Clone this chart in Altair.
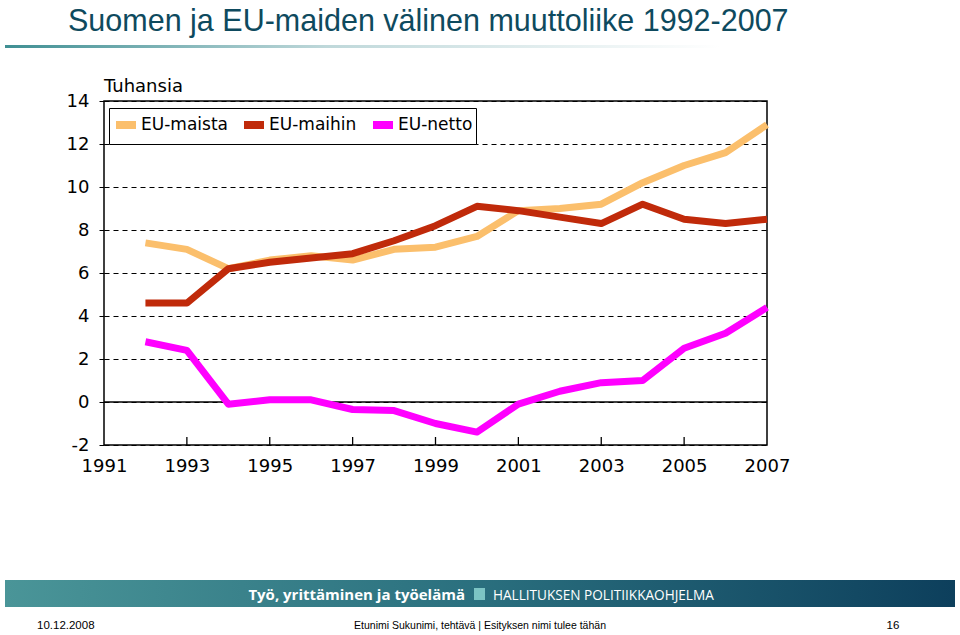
import altair as alt
import pandas as pd

years = list(range(1992, 2008))
eu_maista = [7.4, 7.1, 6.2, 6.6, 6.8, 6.6, 7.1, 7.2, 7.7, 8.9, 9.0, 9.2, 10.2, 11.0, 11.6, 12.9]
eu_maihin = [4.6, 4.6, 6.2, 6.5, 6.7, 6.9, 7.5, 8.2, 9.1, 8.9, 8.6, 8.3, 9.2, 8.5, 8.3, 8.5]
eu_netto = [2.8, 2.4, -0.1, 0.1, 0.1, -0.35, -0.4, -1.0, -1.4, -0.1, 0.5, 0.9, 1.0, 2.5, 3.2, 4.4]
series_names = ["EU-maista", "EU-maihin", "EU-netto"]
series_colors = ["#FBBF6C", "#C02A0A", "#FF00FF"]
x_ticks = [1991, 1993, 1995, 1997, 1999, 2001, 2003, 2005, 2007]
inner_ticks = [1993, 1995, 1997, 1999, 2001, 2003, 2005]
y_ticks = [-2, 0, 2, 4, 6, 8, 10, 12, 14]

rows = []
for name, vals in zip(series_names, [eu_maista, eu_maihin, eu_netto]):
    for y, v in zip(years, vals):
        rows.append({"year": y, "value": v, "series": name})
df = pd.DataFrame(rows)

W, H = 663, 344
OX, OY = 104, 101
one = pd.DataFrame({"a": [0]})

xscale = alt.Scale(domain=[1991, 2007], nice=False, zero=False)
yscale = alt.Scale(domain=[-2, 14], nice=False, zero=False)

lines = alt.Chart(df).mark_line(strokeWidth=7, strokeJoin="round", clip=False).encode(
    x=alt.X("year:Q", scale=xscale,
            axis=alt.Axis(values=x_ticks, format="d", title=None, grid=False, domain=False,
                          tickSize=0, labelFontSize=18, labelFont="DejaVu Sans",
                          labelColor="black", labelPadding=12, labelFlush=False)),
    y=alt.Y("value:Q", scale=yscale,
            axis=alt.Axis(values=y_ticks, title=None, grid=True, gridColor="black",
                          gridDash=[5, 4], gridWidth=1.2, gridOpacity=1, domain=False,
                          tickSize=5, tickColor="black", labelFontSize=18,
                          labelExpr="toString(datum.value)",
                          labelFont="DejaVu Sans", labelColor="black", labelPadding=10)),
    color=alt.Color("series:N", scale=alt.Scale(domain=series_names, range=series_colors),
                    legend=alt.Legend(title=None, orient="none", legendX=5, legendY=7,
                                      direction="horizontal", symbolType="stroke",
                                      symbolStrokeWidth=8, symbolSize=400,
                                      labelFontSize=17, labelFont="DejaVu Sans",
                                      labelColor="black", labelOffset=1, columnPadding=0,
                                      strokeColor="black", fillColor="white", padding=3)),
    order=alt.Order("year:Q"),
)

zero_rule = alt.Chart(one).mark_rule(color="black", strokeWidth=1.3).encode(
    y=alt.datum(0)
)

tick_df = pd.DataFrame({"year": inner_ticks})
ticks = alt.Chart(tick_df).mark_rule(color="black", strokeWidth=1.3).encode(
    x=alt.X("year:Q", scale=xscale), y=alt.value(H - 8), y2=alt.value(H)
)

def txt(s, x, y, size, font, color="black", weight="normal", align="left"):
    return alt.Chart(one).mark_text(text=s, fontSize=size, font=font, color=color,
                                    fontWeight=weight, align=align, baseline="alphabetic").encode(
        x=alt.value(x), y=alt.value(y))

title = txt("Suomen ja EU-maiden välinen muuttoliike 1992-2007", 68 - OX, 31 - OY, 30.5,
            "Liberation Sans, Arial", color="#0E4A5E")

title_line = alt.Chart(one).mark_rect(fill={
    "gradient": "linear", "x1": 0, "x2": 1, "y1": 0, "y2": 0,
    "stops": [{"offset": 0, "color": "#3F8F93"}, {"offset": 0.45, "color": "#BFD8DA"},
              {"offset": 1, "color": "#FFFFFF"}]}).encode(
    x=alt.value(5 - OX), x2=alt.value(720 - OX), y=alt.value(45 - OY), y2=alt.value(48 - OY))

tuhansia = txt("Tuhansia", 104 - OX, 92 - OY, 18, "DejaVu Sans")

banner = alt.Chart(one).mark_rect(fill={
    "gradient": "linear", "x1": 0, "x2": 1, "y1": 0, "y2": 0,
    "stops": [{"offset": 0, "color": "#4A9598"}, {"offset": 0.5, "color": "#2A6F7E"},
              {"offset": 1, "color": "#0D3F5C"}]}).encode(
    x=alt.value(5 - OX), x2=alt.value(955 - OX), y=alt.value(580 - OY), y2=alt.value(607 - OY))

banner_t1 = txt("Työ, yrittäminen ja työelämä", 465 - OX, 600 - OY, 15, "Open Sans",
                color="white", weight="bold", align="right")
banner_sq = alt.Chart(one).mark_rect(color="#7CC4C4").encode(
    x=alt.value(474 - OX), x2=alt.value(485 - OX), y=alt.value(588 - OY), y2=alt.value(600 - OY))
banner_t2 = txt("HALLITUKSEN POLITIIKKAOHJELMA", 493 - OX, 600 - OY, 13.6, "Open Sans", color="white")

foot1 = txt("10.12.2008", 37 - OX, 629 - OY, 11.5, "Liberation Sans")
foot2 = txt("Etunimi Sukunimi, tehtävä | Esityksen nimi tulee tähän", 480 - OX, 629 - OY, 10.5,
            "Liberation Sans", align="center")
foot3 = txt("16", 893 - OX, 629 - OY, 11.5, "Liberation Sans", align="center")

chart = alt.layer(
    zero_rule, ticks, lines, title, title_line, tuhansia, banner, banner_t1, banner_sq,
    banner_t2, foot1, foot2, foot3
).properties(
    width=W, height=H,
    padding={"left": OX, "top": OY, "right": 960 - OX - W, "bottom": 635 - OY - H},
    autosize=alt.AutoSizeParams(type="none"),
    background="white",
).configure_view(stroke="black", strokeWidth=1.5)

chart.save("out.html", embed_options={"renderer": "svg", "actions": False})
